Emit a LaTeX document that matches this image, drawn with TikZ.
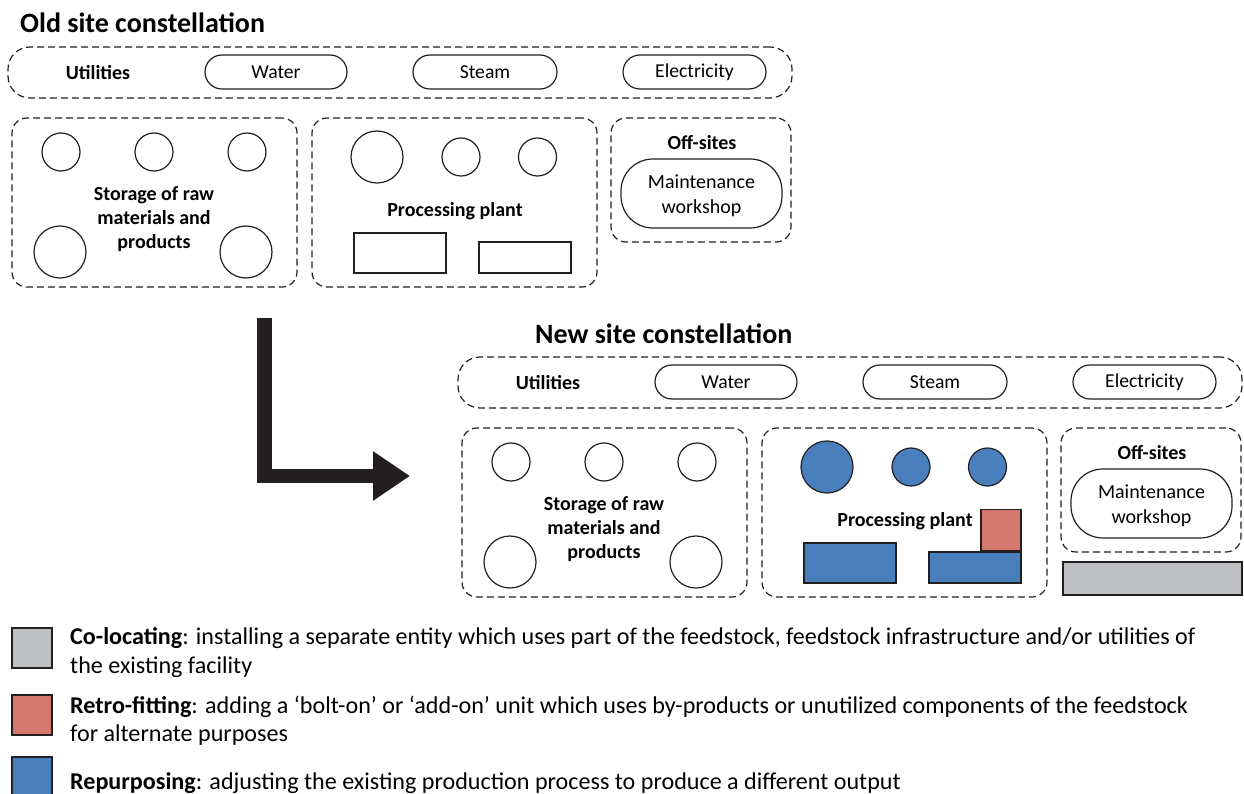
\documentclass[tikz,border=0pt]{standalone}
\usepackage{fontspec}
\setmainfont{Carlito}
\usetikzlibrary{arrows.meta}
\definecolor{repblue}{RGB}{74,127,190}
\definecolor{retrored}{RGB}{212,121,108}
\definecolor{cogray}{RGB}{190,191,195}
\definecolor{ink}{RGB}{35,31,32}
\tikzset{
  dbox/.style={draw=ink, dash pattern=on 7pt off 4pt, line width=1.2pt, rounded corners=15pt, inner sep=0pt},
  ubox/.style={dbox, rounded corners=22pt},
  pill/.style={draw=ink, line width=1.2pt, rounded corners=17pt, inner sep=0pt, minimum height=34pt, font=\fontsize{19.7}{24}\selectfont},
  mpill/.style={draw=ink, line width=1.2pt, rounded corners=32pt, inner sep=0pt},
  tank/.style={draw=ink, circle, line width=1.2pt, inner sep=0pt},
  unitbox/.style={draw=ink, line width=1.2pt, inner sep=0pt},
  lbl/.style={font=\bfseries\fontsize{20}{24}\selectfont, align=center, inner sep=0pt},
  plbl/.style={font=\fontsize{20}{25}\selectfont, align=center, inner sep=0pt},
  ttl/.style={font=\bfseries\fontsize{28}{32}\selectfont, inner sep=0pt, anchor=base west},
  legtxt/.style={font=\fontsize{24.1}{28}\selectfont, inner sep=0pt, anchor=base west},
  legsq/.style={draw=ink, line width=1.2pt, minimum size=40pt, inner sep=0pt},
}
\newcommand{\drawsite}[2]{%
  \node[ubox, minimum width=784pt, minimum height=51pt] (#1util) at (400,72.5) {};
  \node[lbl] (#1utillbl) at (98,73) {Utilities};
  \node[pill, minimum width=142pt] (#1water) at (276,72) {Water};
  \node[pill, minimum width=144pt] (#1steam) at (485,72) {Steam};
  \node[pill, minimum width=143pt] (#1elec) at (694.5,72) {Electricity};
  \node[dbox, minimum width=285pt, minimum height=169pt] (#1stor) at (154.5,202.5) {};
  \node[tank, minimum size=38pt] (#1s1) at (61,152) {};
  \node[tank, minimum size=38pt] (#1s2) at (154,152) {};
  \node[tank, minimum size=38pt] (#1s3) at (247,152) {};
  \node[tank, minimum size=52pt] (#1s4) at (60,252) {};
  \node[tank, minimum size=52pt] (#1s5) at (246,252) {};
  \node[lbl] (#1storlbl) at (154,219) {Storage of raw\\materials and\\products};
  \node[dbox, minimum width=285pt, minimum height=169pt] (#1proc) at (454.5,202.5) {};
  \node[tank, fill=#2, minimum size=52pt] (#1p1) at (377,157) {};
  \node[tank, fill=#2, minimum size=38pt] (#1p2) at (461,157) {};
  \node[tank, fill=#2, minimum size=38pt] (#1p3) at (537.5,157) {};
  \node[lbl] (#1proclbl) at (455,211) {Processing plant};
  \node[unitbox, fill=#2, minimum width=92pt, minimum height=40pt] (#1r1) at (400,253) {};
  \node[unitbox, fill=#2, minimum width=92pt, minimum height=31pt] (#1r2) at (525,257.5) {};
  \node[dbox, minimum width=180pt, minimum height=124pt] (#1off) at (701,180) {};
  \node[lbl] (#1offlbl) at (702,143) {Off-sites};
  \node[mpill, minimum width=161pt, minimum height=69pt] (#1maint) at (701.5,193.5) {};
  \node[plbl] (#1mainttxt) at (701.5,196) {Maintenance\\workshop};
}
\begin{document}
\begin{tikzpicture}[x=1pt,y=-1pt]
\useasboundingbox (0,0) rectangle (1244,794);
% old site
\node[ttl] (oldttl) at (20,33) {Old site constellation};
\drawsite{o}{white}
% new site
\node[ttl] (newttl) at (535,343) {New site constellation};
\begin{scope}[shift={(450,310)}]
\drawsite{n}{repblue}
\node[unitbox, fill=retrored, minimum width=40pt, minimum height=41pt, anchor=south east] (nretro) at (nr2.north east) {};
\end{scope}
\node[unitbox, fill=cogray, minimum width=179pt, minimum height=33pt] (ncoloc) at (1152.5,578.5) {};
% transition arrow
\coordinate (arrS) at (264.5,318);
\coordinate (arrE) at (410,476);
\draw[ink, line width=14.5pt, -{Triangle[length=37pt,width=47pt]}] (arrS) |- (arrE);
% legend
\node[legsq, fill=cogray] (lg1) at (32,648) {};
\node[legsq, fill=retrored] (lg2) at (32,715) {};
\node[legsq, fill=repblue] (lg3) at (32,777) {};
\node[legtxt] (lt1a) at (70,644) {\textbf{Co-locating}: installing a separate entity which uses part of the feedstock, feedstock infrastructure and/or utilities of};
\node[legtxt] (lt1b) at (70,673) {the existing facility};
\node[legtxt] (lt2a) at (70,713) {\textbf{Retro-fitting}: adding a ‘bolt-on’ or ‘add-on’ unit which uses by-products or unutilized components of the feedstock};
\node[legtxt] (lt2b) at (70,741) {for alternate purposes};
\node[legtxt] (lt3) at (70,789) {\textbf{Repurposing}: adjusting the existing production process to produce a different output};
\end{tikzpicture}
\end{document}
